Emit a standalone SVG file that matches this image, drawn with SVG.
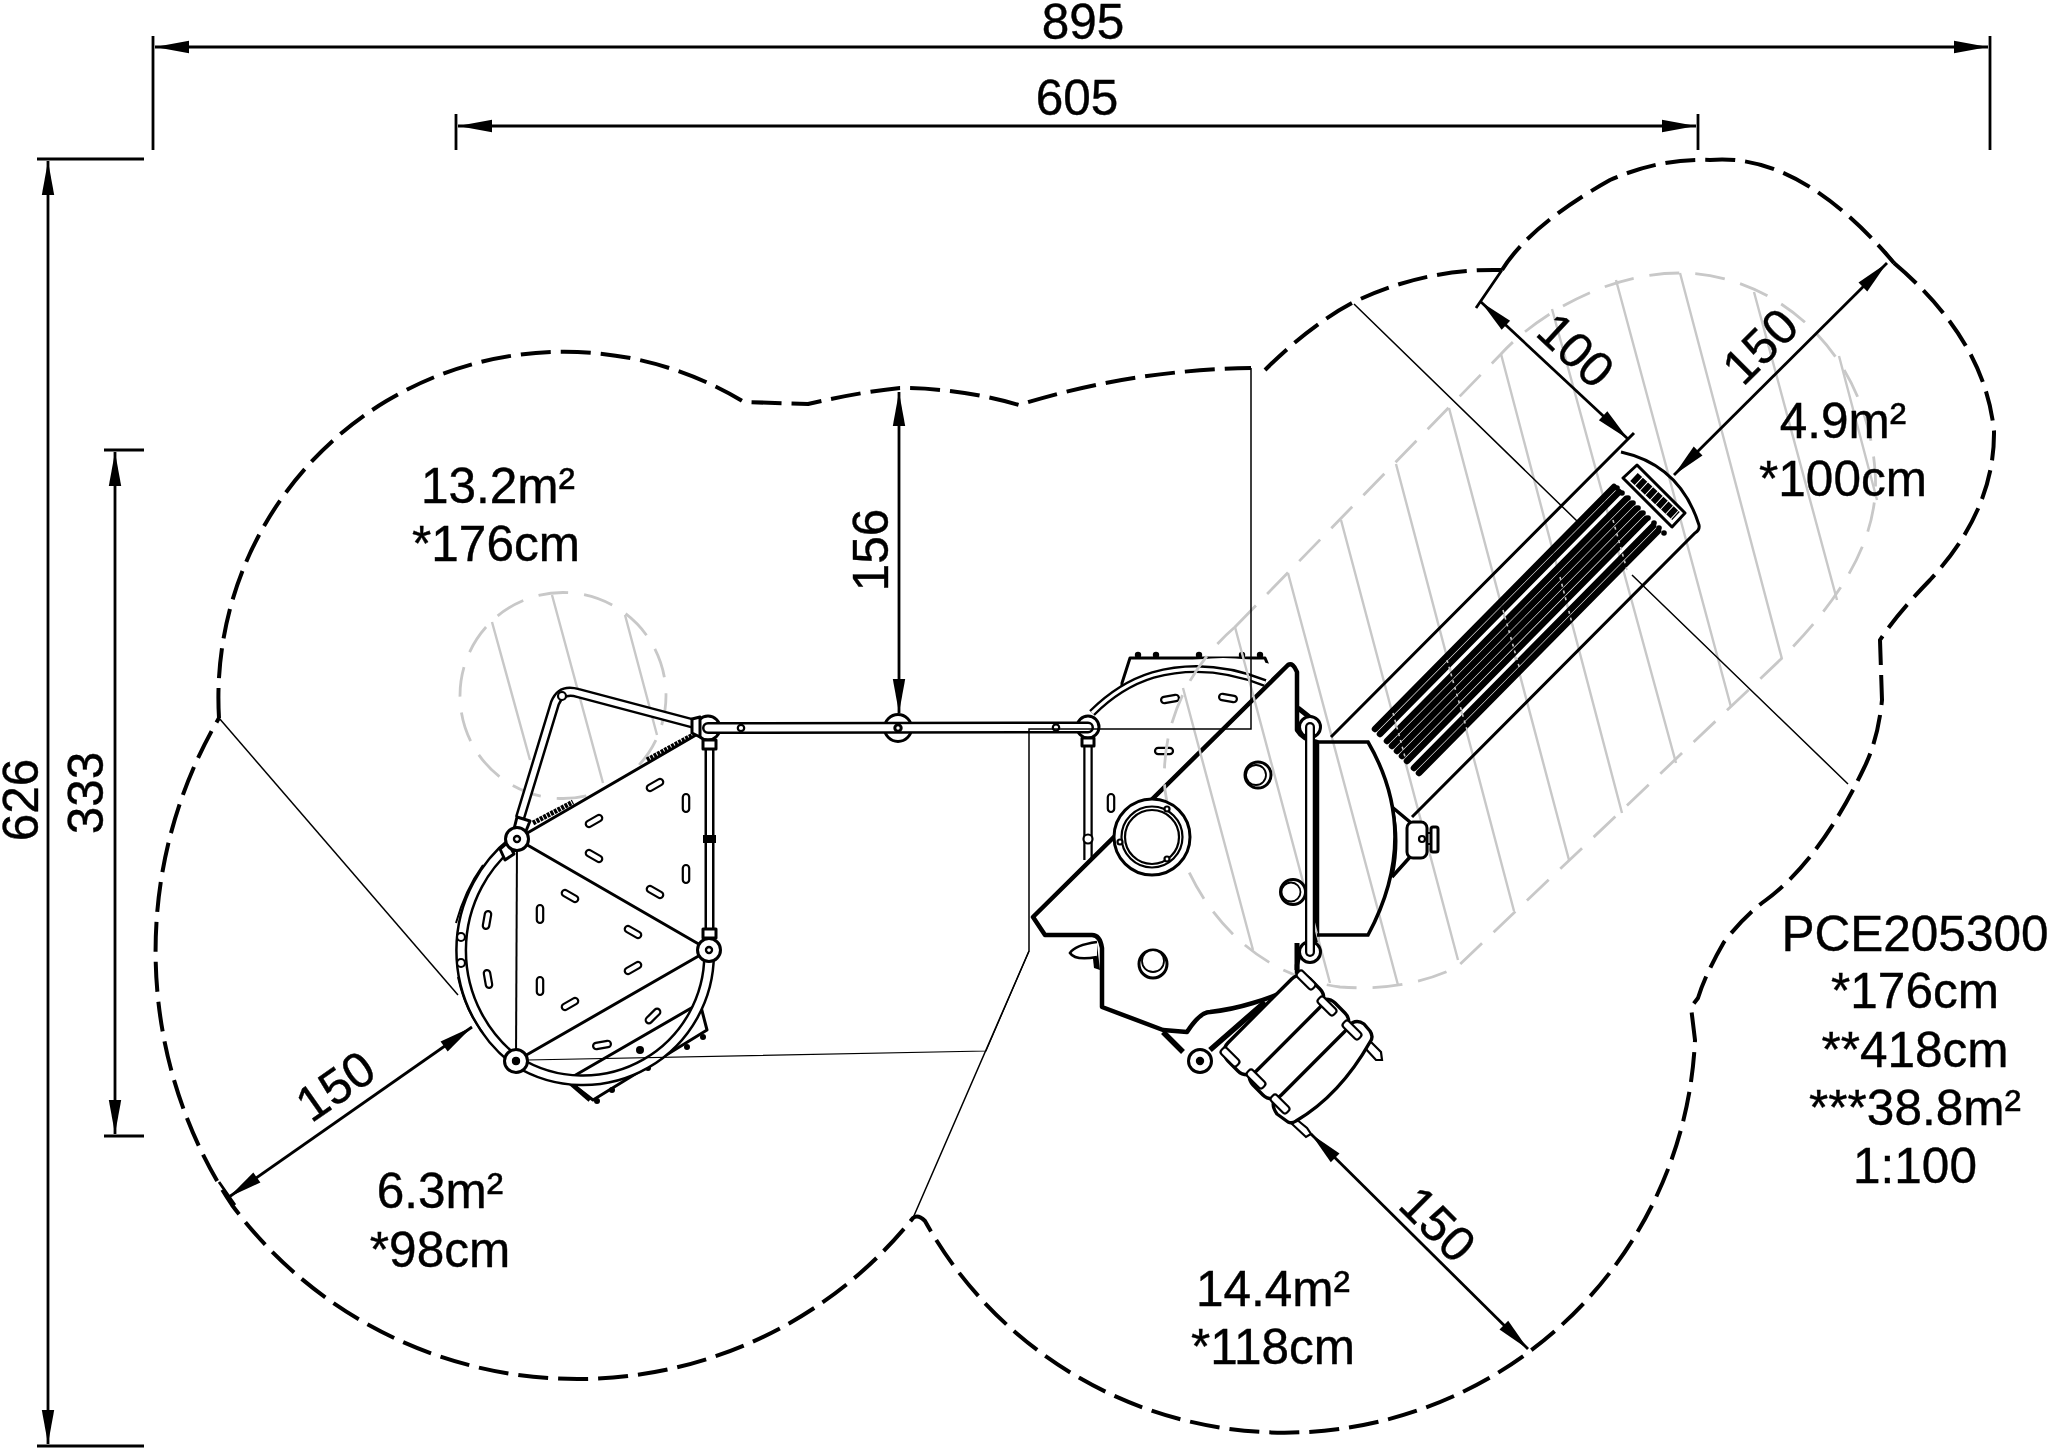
<svg xmlns="http://www.w3.org/2000/svg" width="2048" height="1448" viewBox="0 0 2048 1448">
<style>
text{font-family:"Liberation Sans",Arial,sans-serif;font-size:49.5px;fill:#000;stroke:#000;stroke-width:.4;text-anchor:middle}
.b{fill:none;stroke:#000;stroke-width:4;stroke-dasharray:30 10}
.g{fill:none;stroke:#c8c8c8;stroke-width:2.4}
.gd{fill:none;stroke:#c8c8c8;stroke-width:2.8;stroke-dasharray:30 16}
.t{fill:none;stroke:#000;stroke-width:1.5}
.e{fill:none;stroke:#000;stroke-width:2.8}
.d{fill:none;stroke:#000;stroke-width:2.8}
.a{marker-start:url(#ah);marker-end:url(#ah)}
.l{fill:none;stroke:#000;stroke-width:3}
.w{fill:#fff;stroke:#000;stroke-width:3;stroke-linejoin:round}
.h{fill:none;stroke:#000;stroke-width:6.5;stroke-linecap:round}
.to{fill:none;stroke:#000}
.ti{fill:none;stroke:#fff}
.s{fill:#fff;stroke:#000;stroke-width:2.2}
.k{fill:#000}
</style>
<defs>
<marker id="ah" viewBox="-36 -8 38 16" refX="0" refY="0" markerWidth="38" markerHeight="16" markerUnits="userSpaceOnUse" orient="auto-start-reverse"><path d="M0,0 L-34,-6.2 L-34,6.2 Z"/></marker>
<rect id="slot" x="-9" y="-3.2" width="18" height="6.4" rx="3.2" class="s"/>
<g id="post"><circle r="11.5" fill="#fff" stroke="#000" stroke-width="3"/><circle r="3" fill="#fff" stroke="#000" stroke-width="2.4"/></g>
</defs>

<g id="safety-zone">
<path class="b" d="M219,718 A346,346 0 0 1 744,402 L808,404 Q860,392 900,388 Q960,388 1019,405 Q1130,370 1251,368"/>
<path class="b" d="M1265,370 Q1310,325 1354,302 Q1425,268 1502,270"/>
<path class="b" d="M1502,270 Q1530,225 1610,180 Q1660,158 1710,160 Q1800,152 1894,263"/>
<path class="b" d="M1894,263 Q1985,340 1994,431 Q1995,510 1930,580 Q1896,615 1880,640 L1882,700 Q1878,740 1864,768 Q1820,860 1766,900 Q1745,915 1724,942 Q1705,975 1698,998 L1691,1007 L1695,1040 A411,411 0 0 1 925,1221 Q918,1214 913,1218 A430,430 0 0 1 232,1205 A460,460 0 0 1 219,718"/>
</g>

<g id="fall-zone-left">
<circle class="gd" cx="563" cy="695.5" r="103"/>
<path class="g" d="M492,622 L530,760 M552,595 L603,783 M625,615 L657,735"/>
</g>

<g id="climber-left">
<path d="M517,839 L708,728 L709,950 A126,126 0 0 1 516,1061 A139,139 0 0 1 517,839 Z" fill="#fff"/>
<path class="w" d="M700,1003 L707,1030 L593,1100 L567,1080 Z"/>
<path d="M568,1081 L590,1100" stroke="#000" stroke-width="4.5"/>
<g class="k"><circle cx="703" cy="1037" r="3"/><circle cx="687" cy="1047" r="3"/><circle cx="648" cy="1068" r="3"/><circle cx="612" cy="1090" r="3"/><circle cx="597" cy="1101" r="3"/><circle cx="640" cy="1050" r="4"/></g>
<path class="to" style="stroke-width:12" d="M517,839 A139,139 0 0 0 516,1061 A126,126 0 0 0 709,950"/>
<path class="ti" style="stroke-width:7" d="M517,839 A139,139 0 0 0 516,1061 A126,126 0 0 0 709,950"/>
<path class="l" style="stroke-width:2" d="M456,923 Q465,890 483,865 M458,977 Q465,1010 483,1033"/>
<path class="to" style="stroke-width:10.5" d="M520,818 L555,703 Q561,688 578,693 L695,724"/>
<path class="ti" style="stroke-width:5.5" d="M520,818 L555,703 Q561,688 578,693 L695,724"/>
<path class="to" style="stroke-width:10" d="M709.5,740 L709.5,937"/>
<path class="ti" style="stroke-width:5" d="M709.5,740 L709.5,937"/>
<rect class="k" x="703" y="835" width="13" height="8"/>
<circle class="s" cx="562" cy="696" r="4"/>
<circle class="s" cx="461" cy="937" r="4"/>
<circle class="s" cx="461" cy="963" r="4"/>
<path class="l" d="M517,839 L708,728 M517,839 L709,950 M709,950 L516,1061"/>
<path class="l" style="stroke-width:2" d="M517,839 L516,1061"/>
<path d="M533,823 L573,802 M647,760 L693,735" fill="none" stroke="#000" stroke-width="5" stroke-dasharray="3 1"/>
<path class="w" d="M703,929 L716,929 L716,938 L703,938 Z"/>
<path class="w" d="M500,849 L508,842 L514,854 L505,860 Z"/>
<path class="w" d="M517,817 L530,821 L526,831 L514,829 Z"/>
<use href="#post" x="517" y="839"/>
<use href="#post" x="709" y="950"/>
<use href="#post" x="516" y="1061"/>
<circle cx="516" cy="1061" r="4" class="k"/>
<use href="#slot" transform="translate(655,785) rotate(-30)"/>
<use href="#slot" transform="translate(686,803) rotate(90)"/>
<use href="#slot" transform="translate(594,821) rotate(-30)"/>
<use href="#slot" transform="translate(594,856) rotate(30)"/>
<use href="#slot" transform="translate(655,892) rotate(30)"/>
<use href="#slot" transform="translate(686,874) rotate(90)"/>
<use href="#slot" transform="translate(570,896) rotate(30)"/>
<use href="#slot" transform="translate(540,914) rotate(90)"/>
<use href="#slot" transform="translate(633,932) rotate(30)"/>
<use href="#slot" transform="translate(633,968) rotate(-30)"/>
<use href="#slot" transform="translate(570,1004) rotate(-30)"/>
<use href="#slot" transform="translate(540,986) rotate(90)"/>
<use href="#slot" transform="translate(487,920) rotate(100)"/>
<use href="#slot" transform="translate(488,979) rotate(80)"/>
<use href="#slot" transform="translate(653,1016) rotate(-45)"/>
<use href="#slot" transform="translate(602,1045) rotate(-10)"/>
</g>

<g id="deck-back">
<path class="w" d="M1122,683 L1130,658 L1265,658 L1272,675 L1272,720 L1122,720 Z"/>
<g class="k"><circle cx="1138" cy="655" r="3.2"/><circle cx="1156" cy="655" r="3.2"/><circle cx="1199" cy="655" r="3.2"/><circle cx="1242" cy="655" r="3.2"/><circle cx="1260" cy="655" r="3.2"/></g>
<path d="M1095,730 L1095,870 L1290,680 L1275,665 Q1200,645 1125,683 Z" fill="#fff"/>
<path class="to" style="stroke-width:8" d="M1092,713 Q1120,685 1153,675 Q1207,660 1265,683"/>
<path class="ti" style="stroke-width:3.2" d="M1092,713 Q1120,685 1153,675 Q1207,660 1265,683"/>
<path class="to" style="stroke-width:9.5" d="M1088,740 L1088,860"/>
<path class="ti" style="stroke-width:5" d="M1088,740 L1088,860"/>
<circle class="s" cx="1088" cy="839" r="4.5"/>
<use href="#slot" transform="translate(1170,699) rotate(-10)"/>
<use href="#slot" transform="translate(1228,698) rotate(10)"/>
<use href="#slot" transform="translate(1164,751)"/>
<use href="#slot" transform="translate(1111,803) rotate(90)"/>
</g>

<g id="rail">
<circle cx="898" cy="728" r="13.5" fill="#fff" stroke="#000" stroke-width="3"/>
<circle cx="708" cy="728" r="12" fill="#fff" stroke="#000" stroke-width="3"/>
<circle cx="1088" cy="727" r="11" fill="#fff" stroke="#000" stroke-width="3"/>
<path class="w" d="M692,719 L700,717 L700,737 L692,733 Z"/>
<path class="w" d="M703,740 L716,740 L716,749 L703,749 Z"/>
<path class="w" d="M1082,738 L1094,738 L1094,746 L1082,746 Z"/>
<path class="to" style="stroke-width:12;stroke-linecap:round" d="M708,728 L1088,727.5"/>
<path class="ti" style="stroke-width:7;stroke-linecap:round" d="M708,728 L1088,727.5"/>
<circle class="s" cx="741" cy="728" r="3.2"/>
<circle class="s" cx="1056" cy="727.5" r="3.2"/>
<circle cx="898" cy="728" r="3.2" fill="#fff" stroke="#000" stroke-width="3"/>
</g>

<g id="deck">
<path class="k" d="M1097,944 L1100,970 L1094,968 L1092,950 Z"/>
<path d="M1097,942 Q1075,945 1070,953 Q1075,961 1097,957" fill="#fff" stroke="#000" stroke-width="2.6"/>
<path d="M1288,665 Q1293,662 1297,672 L1297,730 Q1303,740 1317,742 L1317,940 Q1300,945 1297,965 L1297,985 Q1280,995 1253,1003 Q1230,1010 1210,1012 Q1200,1012 1187,1032 L1163,1030 L1102,1007 L1102,948 Q1100,935 1092,935 L1045,935 L1033,917 Z" fill="#fff" stroke="#000" stroke-width="4.5" stroke-linejoin="round"/>
<path d="M1298,708 L1317,723 M1297,970 L1297,943" fill="none" stroke="#000" stroke-width="5"/>
</g>

<g id="fall-zone-right">
<path class="gd" d="M1235,627 L1501,354 C1530,322 1600,273 1680,273 C1770,273 1865,345 1875,470 C1880,530 1850,590 1781,659 L1457,967 C1420,985 1380,990 1340,987 C1250,975 1180,900 1165,790 C1160,730 1185,670 1235,627"/>
<path class="g" d="M1183,688 L1253,950 M1235,627 L1330,983 M1288,573 L1398,985 M1341,520 L1458,960 M1396,464 L1514,911 M1449,408 L1569,860 M1501,354 L1622,813 M1552,309 L1676,763 M1616,280 L1731,707 M1680,273 L1782,659 M1754,292 L1837,600 M1839,356 L1877,500"/>
</g>

<g id="slide">
<path class="l" d="M1331,737 L1634,433 M1621,452 Q1680,465 1699,525 Q1700,530 1695,533 L1412,817"/>
<path class="h" d="M1375,729 L1614,487 M1380,734 L1619,492 M1387,741 L1626,499 M1392,746 L1631,504 M1397,751 L1636,509 M1402,756 L1641,514 M1407,761 L1646,519 M1414,768 L1653,526 M1419,773 L1658,531"/>
<path fill="none" stroke="#c8c8c8" stroke-width="1.6" stroke-dasharray="3 4" d="M1393,713 L1405,757 M1447,660 L1467,730 M1503,610 L1520,670 M1560,577 L1573,627 M1613,520 L1627,570"/>
<g class="k"><circle cx="1617" cy="488" r="2.8"/><circle cx="1622" cy="493" r="2.8"/><circle cx="1628" cy="498" r="2.8"/><circle cx="1633" cy="503" r="2.8"/><circle cx="1638" cy="508" r="2.8"/><circle cx="1643" cy="513" r="2.8"/><circle cx="1648" cy="518" r="2.8"/><circle cx="1654" cy="523" r="2.8"/><circle cx="1659" cy="528" r="2.8"/><circle cx="1664" cy="533" r="2.8"/></g>
<path class="w" d="M1623,478 L1637,465 L1685,513 L1672,527 Z"/>
<path d="M1634,477 L1676,516" fill="none" stroke="#000" stroke-width="11" stroke-dasharray="6 1"/>
</g>

<g id="slide-hood">
<path d="M1317,742 L1368,742 Q1422,835 1368,935 L1317,935" fill="none" stroke="#000" stroke-width="3.6"/>
<path d="M1392,807 L1410,822 M1392,877 L1410,857" stroke="#000" stroke-width="3.5"/>
<path d="M1393,810 Q1400,840 1393,875" fill="none" stroke="#000" stroke-width="2"/>
<rect class="w" x="1407" y="822" width="20" height="36" rx="6"/>
<rect class="w" x="1431" y="827" width="7" height="25" rx="2"/>
<path d="M1427,833 L1431,833 M1427,844 L1431,844" stroke="#000" stroke-width="2"/>
<circle class="s" cx="1422" cy="839" r="3"/>
</g>

<g id="entry-bar">
<circle cx="1310" cy="727" r="10.5" fill="#fff" stroke="#000" stroke-width="3"/>
<circle cx="1310" cy="952" r="10.5" fill="#fff" stroke="#000" stroke-width="3"/>
<path class="to" style="stroke-width:10;stroke-linecap:round" d="M1310,727 L1310,952"/>
<path class="ti" style="stroke-width:5.5;stroke-linecap:round" d="M1310,727 L1310,952"/>
</g>

<g id="deck-details">
<circle cx="1152" cy="837" r="38" fill="#fff" stroke="#000" stroke-width="3"/>
<circle cx="1152" cy="837" r="30.5" fill="#fff" stroke="#000" stroke-width="2.2"/>
<circle cx="1152" cy="837" r="27" fill="#fff" stroke="#000" stroke-width="2.2"/>
<circle class="s" cx="1167" cy="809" r="2.5"/><circle class="s" cx="1120" cy="842" r="2.5"/><circle class="s" cx="1167" cy="859" r="2.5"/>
<circle cx="1258" cy="775" r="13" fill="#fff" stroke="#000" stroke-width="3"/><circle cx="1256" cy="775" r="10" fill="#fff" stroke="#000" stroke-width="1.8"/>
<circle cx="1293" cy="892" r="12.5" fill="#fff" stroke="#000" stroke-width="3"/><circle cx="1291" cy="892" r="9.5" fill="#fff" stroke="#000" stroke-width="1.8"/>
<circle cx="1153" cy="964" r="14" fill="#fff" stroke="#000" stroke-width="3"/><circle cx="1153" cy="961" r="11" fill="#fff" stroke="#000" stroke-width="1.8"/>
</g>

<g id="steps">
<path d="M1163,1032 L1183,1052 M1210,1050 L1265,1002" fill="none" stroke="#000" stroke-width="5.5"/>
<use href="#post" x="1200" y="1061"/><circle cx="1200" cy="1061" r="3" class="k"/>
<path class="s" d="M1369,1040 L1381,1052 L1382,1060 L1376,1060 L1365,1048 Z"/>
<path class="s" d="M1296,1119 L1307,1128 L1311,1134 L1306,1137 L1292,1124 Z"/>
<path class="w" style="stroke-width:3.4" d="M1288,1122 L1277,1114 Q1270,1104 1276,1098 L1348,1026 Q1356,1018 1364,1024 L1370,1031 Q1374,1037 1370,1042 Q1340,1095 1296,1121 Q1292,1124 1288,1122 Z"/>
<rect class="w" style="stroke-width:3.4" x="-58" y="-20" width="116" height="40" rx="13" transform="translate(1299,1049) rotate(-45)"/>
<rect class="w" style="stroke-width:3.4" x="-58" y="-20" width="116" height="40" rx="13" transform="translate(1274,1025) rotate(-45)"/>
<g class="s"><rect x="-11" y="-4" width="22" height="8" rx="3" transform="translate(1230,1057) rotate(45)"/><rect x="-11" y="-4" width="22" height="8" rx="3" transform="translate(1306,980) rotate(45)"/><rect x="-11" y="-4" width="22" height="8" rx="3" transform="translate(1256,1079) rotate(45)"/><rect x="-11" y="-4" width="22" height="8" rx="3" transform="translate(1327,1006) rotate(45)"/><rect x="-11" y="-4" width="22" height="8" rx="3" transform="translate(1280,1104) rotate(45)"/><rect x="-11" y="-4" width="22" height="8" rx="3" transform="translate(1352,1030) rotate(45)"/></g>
</g>

<g id="connectors">
<path class="t" d="M219,718 L458,995"/>
<path class="t" d="M1354,304 L1577,521 M1632,575 L1848,784"/>
<path class="t" d="M1251,368 L1251,729 L1029,729 L1029,951 L913,1218"/>
<path class="t" d="M527,1060 L986,1051 L1029,951" style="stroke-width:1.2"/>
<path class="e" d="M153,36 L153,150 M1990,36 L1990,150 M456,114 L456,150 M1698,114 L1698,150 M37,159 L144,159 M37,1446 L144,1446 M104,450 L144,450 M104,1136 L144,1136 M1476,308 L1502,270 M219,1182 L235,1205 M1894,263 L1885,252"/>
<path class="d a" d="M155,47 L1988,47"/>
<path class="d a" d="M458,126 L1696,126"/>
<path class="d a" d="M48,161 L48,1444"/>
<path class="d a" d="M115,452 L115,1134"/>
<path class="d a" d="M899,392 L899,713"/>
<path class="d a" d="M472,1027 L229,1197"/>
<path class="d a" d="M1481,302 L1628,439"/>
<path class="d a" d="M1887,263 L1674,475"/>
<path class="d a" d="M1311,1134 L1528,1349"/>
</g>

<g id="labels">
<text x="1083" y="39">895</text>
<text x="1077" y="115">605</text>
<text transform="translate(38,800) rotate(-90)">626</text>
<text transform="translate(103,793) rotate(-90)">333</text>
<text transform="translate(888,550) rotate(-90)">156</text>
<text transform="translate(336,1087) rotate(-35) translate(0,16)">150</text>
<text transform="translate(1575,351) rotate(43) translate(0,16)">100</text>
<text transform="translate(1761,347) rotate(-45) translate(0,16)">150</text>
<text transform="translate(1437,1225) rotate(45) translate(0,16)">150</text>
<text x="498" y="503">13.2m²</text><text x="496" y="561">*176cm</text>
<text x="1843" y="438">4.9m²</text><text x="1843" y="496">*100cm</text>
<text x="440" y="1208">6.3m²</text><text x="440" y="1267">*98cm</text>
<text x="1273" y="1306">14.4m²</text><text x="1273" y="1364">*118cm</text>
<text x="1915" y="951">PCE205300</text><text x="1915" y="1008">*176cm</text><text x="1915" y="1067">**418cm</text><text x="1915" y="1125">***38.8m²</text><text x="1915" y="1183">1:100</text>
</g>
</svg>
